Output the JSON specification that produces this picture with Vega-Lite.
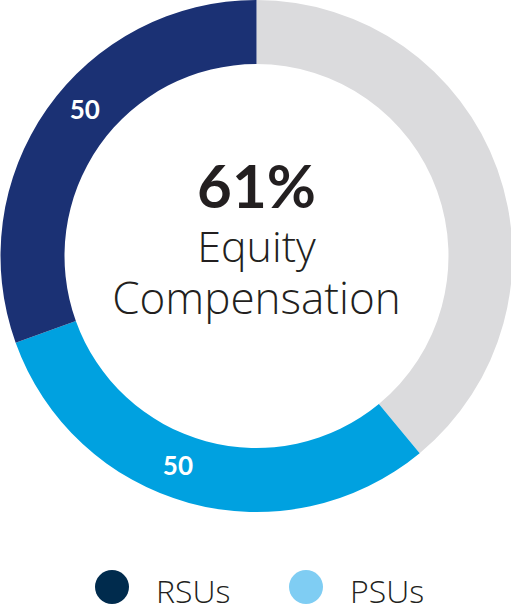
{
  "$schema": "https://vega.github.io/schema/vega-lite/v6.json",
  "width": 511,
  "height": 512,
  "padding": 0,
  "background": "white",
  "config": {"view": {"stroke": null}, "font": "Open Sans"},
  "layer": [
    {
      "data": {"values": [
        {"segment": "Other", "value": 39, "ord": 1, "label": ""},
        {"segment": "PSUs", "value": 30.5, "ord": 2, "label": "50"},
        {"segment": "RSUs", "value": 30.5, "ord": 3, "label": "50"}
      ]},
      "layer": [
        {
          "mark": {"type": "arc", "outerRadius": 256, "innerRadius": 192},
          "encoding": {
            "theta": {"field": "value", "type": "quantitative", "stack": true},
            "order": {"field": "ord", "type": "quantitative"},
            "fill": {
              "field": "segment",
              "type": "nominal",
              "scale": {"domain": ["Other", "PSUs", "RSUs"], "range": ["#dbdbdd", "#00a1e0", "#1b3174"]},
              "legend": null
            }
          }
        },
        {
          "mark": {"type": "text", "radius": 225, "fontSize": 26, "fontWeight": "bold", "fill": "white", "font": "Lato"},
          "encoding": {
            "theta": {"field": "value", "type": "quantitative", "stack": true, "scale": {"range": [0.09, 6.373]}},
            "order": {"field": "ord", "type": "quantitative"},
            "text": {"field": "label"}
          }
        }
      ],
      "resolve": {"scale": {"theta": "independent"}}
    },
    {
      "data": {"values": [
        {"plan": "RSUs"},
        {"plan": "PSUs"}
      ]},
      "transform": [{"filter": "datum.plan === 'none'"}],
      "mark": {"type": "point", "filled": true, "shape": "circle"},
      "encoding": {
        "color": {
          "field": "plan",
          "type": "nominal",
          "scale": {"domain": ["RSUs", "PSUs"], "range": ["#002b4d", "#7fcdf3"]},
          "legend": {
            "title": null,
            "orient": "none",
            "legendX": 94,
            "legendY": 570,
            "direction": "horizontal",
            "symbolType": "circle",
            "symbolSize": 1156,
            "symbolStrokeWidth": 0,
            "symbolOpacity": 1,
            "labelFontSize": 32,
            "labelFont": "Open Sans",
            "labelFontWeight": 300,
            "labelColor": "#231f20",
            "labelOffset": 27,
            "columnPadding": 58,
            "padding": 0,
            "encode": {"labels": {"update": {"dy": {"value": 6}}}}
          }
        }
      }
    },
    {
      "data": {"values": [{"t": "61%"}]},
      "mark": {"type": "text", "fontSize": 60, "fontWeight": "bold", "fill": "#231f20", "font": "Lato", "baseline": "alphabetic", "dy": -48},
      "encoding": {"text": {"field": "t"}}
    },
    {
      "data": {"values": [{"t": "Equity"}]},
      "mark": {"type": "text", "fontSize": 43, "fontWeight": 300, "fill": "#231f20", "font": "Open Sans", "baseline": "alphabetic", "dy": 6},
      "encoding": {"text": {"field": "t"}}
    },
    {
      "data": {"values": [{"t": "Compensation"}]},
      "mark": {"type": "text", "fontSize": 44, "fontWeight": 300, "fill": "#231f20", "font": "Open Sans", "baseline": "alphabetic", "dy": 58},
      "encoding": {"text": {"field": "t"}}
    }
  ]
}
